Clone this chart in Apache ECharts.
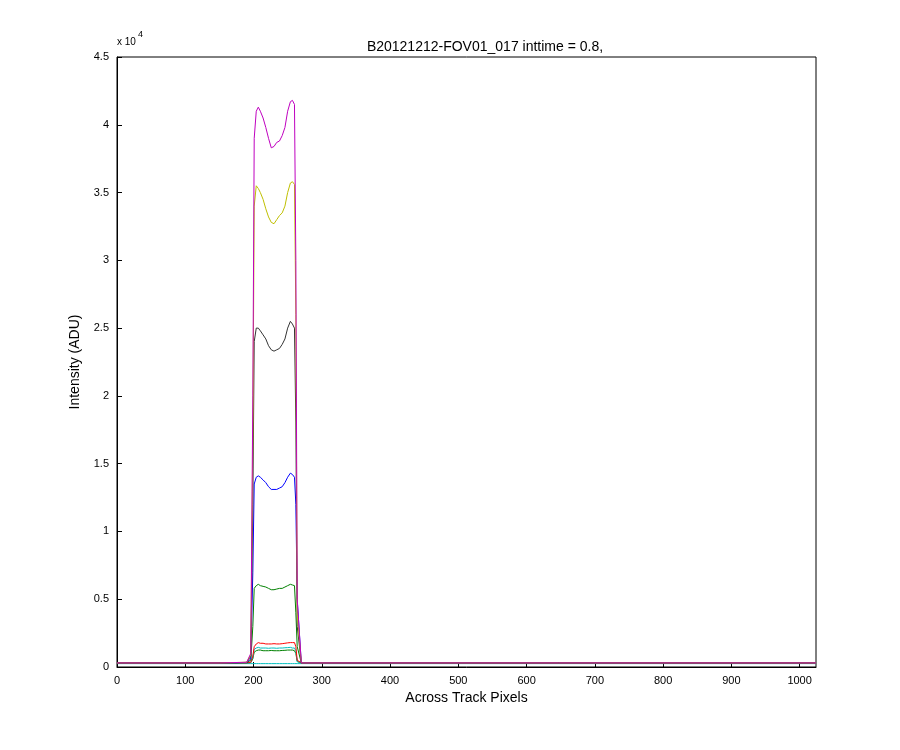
<!DOCTYPE html>
<html><head><meta charset="utf-8">
<script src="https://cdn.jsdelivr.net/npm/echarts@6/dist/echarts.min.js"></script>
<style>html,body{margin:0;background:#fff}#c{width:900px;height:750px}</style>
</head><body><div id="c"></div>
<script>
const xs=[0,150,190,196,199,201,204,207,210,214,218,222,226,230,234,238,242,246,250,254,257,260,262,264,270,1024];
const magenta=[300,300,350,1000,20000,39000,41000,41300,41000,40500,39800,39000,38300,38400,38700,38800,39200,39800,41000,41700,41800,41500,30000,5000,300,300];
const yellow=[300,300,350,900,17000,34000,35500,35300,35000,34500,33800,33200,32800,32700,33000,33300,33500,34000,35000,35700,35800,35600,26000,4000,300,300];
const black=[300,300,340,800,12000,24000,25000,25000,24800,24500,24200,23700,23400,23300,23400,23500,23800,24200,25000,25500,25300,25000,18000,3000,300,300];
const blue=[300,300,330,600,7000,13500,14000,14100,14000,13800,13600,13300,13100,13100,13100,13200,13300,13600,14000,14300,14200,14000,12000,5000,300,300];
const green=[300,300,320,500,3000,5800,6000,6100,6000,5950,5900,5800,5700,5700,5750,5800,5800,5900,6000,6100,6050,6000,4000,1500,300,300];
const red=[300,300,310,350,800,1500,1700,1800,1750,1750,1700,1700,1700,1720,1700,1700,1720,1750,1780,1800,1800,1800,1500,500,300,300];
const cyan=[300,300,310,330,700,1300,1400,1450,1400,1400,1400,1380,1400,1400,1380,1400,1400,1420,1430,1450,1400,1400,1200,400,300,300];
const green2=[300,300,310,320,600,1100,1200,1250,1250,1200,1200,1200,1220,1200,1200,1200,1220,1230,1250,1250,1250,1200,1000,400,300,300];
const cyanBase=[250,250,250,250,250,250,250,250,250,250,250,250,250,250,250,250,250,250,250,250,250,250,250,250,250,250];
const yTicks=[0,5000,10000,15000,20000,25000,30000,35000,40000,45000];
const xTicks=[0,100,200,300,400,500,600,700,800,900,1000];
const seriesDefs=[["cyanBase",cyanBase,"#00bfbf"],["green2",green2,"#008000"],["cyan",cyan,"#00bfbf"],["red",red,"#ff0000"],["green",green,"#008000"],["blue",blue,"#0000ff"],["black",black,"#333333"],["yellow",yellow,"#bfbf00"],["magenta",magenta,"#bf00bf"]];
const F='"Liberation Sans",Arial,sans-serif';
const chart=echarts.init(document.getElementById('c'));
const axisCommon={axisLine:{show:true,onZero:false,lineStyle:{color:'#000'}},axisTick:{inside:true,length:5,lineStyle:{color:'#000'}},splitLine:{show:false},axisLabel:{color:'#000',fontFamily:F,fontSize:11}};
chart.setOption({
 animation:false,
 title:{text:'B20121212-FOV01_017 inttime = 0.8,',left:480,top:35,textAlign:'center',textStyle:{fontFamily:F,fontSize:14,fontWeight:'normal',color:'#000'}},
 graphic:[{type:'text',left:117,top:37,style:{text:'x 10',font:'10px '+F,fill:'#000'}},{type:'text',left:138,top:30,style:{text:'4',font:'9px '+F,fill:'#000'}},
  {type:'rect',shape:{x:117,y:57,width:699,height:610},style:{fill:'none',stroke:'#000',lineWidth:1},z:-1}],
 grid:{left:117,right:84,top:57,bottom:83},
 xAxis:Object.assign({type:'value',min:0,max:1024,interval:100,name:'Across Track Pixels',nameLocation:'middle',nameGap:23,nameTextStyle:{fontFamily:F,fontSize:14,color:'#000'}},axisCommon,{axisLabel:Object.assign({},axisCommon.axisLabel,{showMaxLabel:false,formatter:v=>String(v)})}),
 yAxis:Object.assign({type:'value',min:0,max:45000,interval:5000,name:'Intensity (ADU)',nameLocation:'middle',nameGap:35,nameTextStyle:{fontFamily:F,fontSize:14,color:'#000'}},axisCommon,{axisLabel:Object.assign({},axisCommon.axisLabel,{formatter:v=>String(v/10000)})}),
 series:seriesDefs.map(([n,d,c])=>({name:n,type:'line',showSymbol:false,symbol:'none',data:xs.map((x,i)=>[x,d[i]]),lineStyle:{color:c,width:1},itemStyle:{color:c}}))
});
</script></body></html>
